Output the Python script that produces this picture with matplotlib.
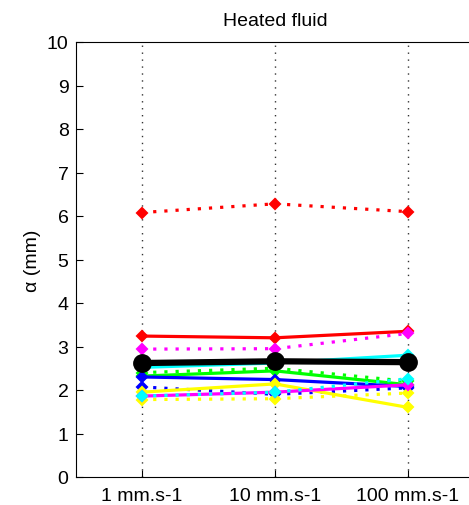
import matplotlib
matplotlib.use('Agg')
import matplotlib.pyplot as plt

# speeds on the x axis
labels = ['1 mm.s-1', '10 mm.s-1', '100 mm.s-1']
xpos = [1, 2, 3]

# alpha values (mm) per sample
red_dot = [6.08, 6.28, 6.10]
red_sol = [3.24, 3.20, 3.35]
mag_dot = [2.94, 2.95, 3.30]
cyan_sol = [2.52, 2.62, 2.80]
green_dot = [2.40, 2.50, 2.20]
green_sol = [2.32, 2.44, 2.12]
blue_sol = [2.30, 2.24, 2.08]
blue_dot = [2.07, 1.90, 2.05]
yellow_sol = [1.95, 2.14, 1.60]
yellow_dot = [1.78, 1.80, 1.93]
mag_sol = [1.86, 1.95, 2.12]
cyan_dot = [1.86, 1.95, 2.26]
mean_vals = [2.62, 2.66, 2.64]

series = [
    (red_dot, 'red', ':'),
    (red_sol, 'red', '-'),
    (mag_dot, 'magenta', ':'),
    (cyan_sol, 'cyan', '-'),
    (green_dot, 'lime', ':'),
    (green_sol, 'lime', '-'),
    (blue_sol, 'blue', '-'),
    (blue_dot, 'blue', ':'),
    (yellow_sol, 'yellow', '-'),
    (yellow_dot, 'yellow', ':'),
    (mag_sol, 'magenta', '-'),
    (cyan_dot, 'cyan', ':'),
]

plt.rcParams['font.family'] = ['Liberation Sans', 'DejaVu Sans']

fig = plt.figure(figsize=(4.69, 5.06), dpi=100)
ax = fig.add_axes([75.5 / 469, 28 / 506, 399 / 469, 435 / 506])

for x in xpos:
    ax.axvline(x, color='#333333', linestyle=(0, (1, 4)), linewidth=1, zorder=0)

for vals, col, ls in series:
    style = (0, (1, 2.5)) if ls == ':' else '-'
    ax.plot(xpos, vals, color=col, linestyle=style, linewidth=2.3,
            marker='D', markersize=5.5, markeredgewidth=1.5, markeredgecolor=col)

ax.plot(xpos, mean_vals, color='black', linewidth=4.5, marker='o', markersize=12.5)

ax.set_xlim(0.5, 3.5)
ax.set_ylim(0, 10)
ax.set_xticks(xpos)
ax.set_xticklabels(labels)
ax.set_yticks(range(0, 11))
ax.tick_params(direction='in', labelsize=14, length=5, pad=7)
ax.tick_params(axis='y', pad=5)
ax.set_ylabel('α (mm)', fontsize=14, labelpad=4)
ax.set_title('Heated fluid', fontsize=14, pad=12)

plt.savefig('out.png', dpi=100)
